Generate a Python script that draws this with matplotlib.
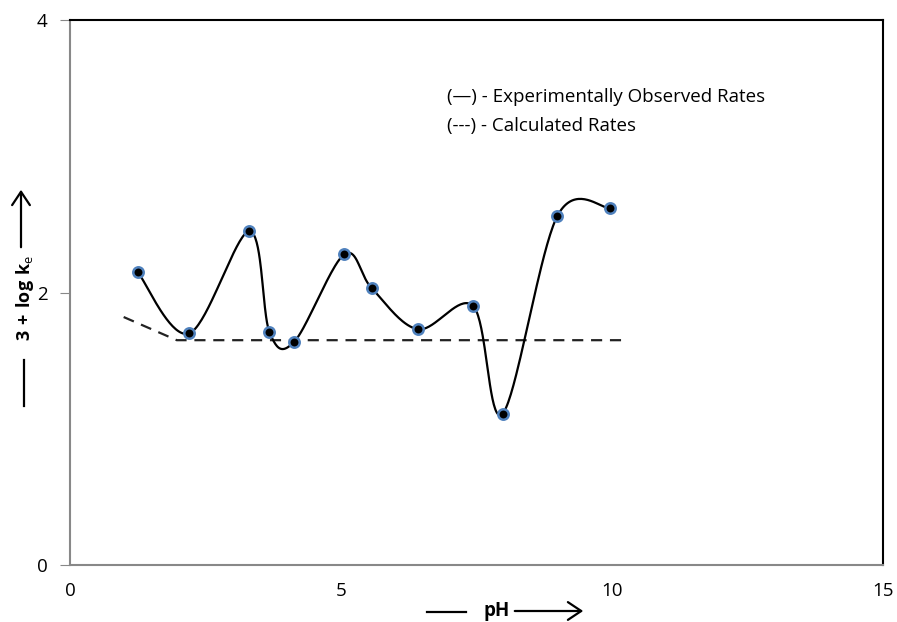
import numpy as np
import matplotlib
matplotlib.use("Agg")
import matplotlib.pyplot as plt

plt.rcParams['font.family'] = ['Open Sans', 'DejaVu Sans']
plt.rcParams['mathtext.fontset'] = 'custom'
plt.rcParams['mathtext.rm'] = 'Open Sans'
plt.rcParams['mathtext.bf'] = 'Open Sans:bold'

# Observed data
ph_obs = [1.25, 2.2, 3.31, 3.68, 4.14, 5.06, 5.57, 6.42, 7.44, 7.98, 8.99, 9.96]
logk_obs = [2.15, 1.70, 2.45, 1.71, 1.64, 2.28, 2.03, 1.73, 1.90, 1.11, 2.56, 2.62]

# Calculated rates
ph_calc = [0.99, 1.97, 10.17]
logk_calc = [1.82, 1.65, 1.65]

x_ticks = [0, 5, 10, 15]
y_ticks = [0, 2, 4]

W, H = 897, 622


def smooth(xs, ys, n=40):
    P = np.column_stack([xs, ys]).astype(float)
    sc = np.array([54.2, 136.5])
    Q = P * sc
    out = []
    m = len(Q)
    for i in range(m - 1):
        p0 = Q[i - 1] if i > 0 else Q[i]
        p1 = Q[i]
        p2 = Q[i + 1]
        p3 = Q[i + 2] if i + 2 < m else Q[i + 1]
        c1 = p1 + (p2 - p0) / 6.0
        c2 = p2 - (p3 - p1) / 6.0
        t = np.linspace(0, 1, n)[:, None]
        seg = ((1 - t) ** 3) * p1 + 3 * ((1 - t) ** 2) * t * c1 + 3 * (1 - t) * t ** 2 * c2 + t ** 3 * p2
        out.append(seg if i == 0 else seg[1:])
    R = np.vstack(out) / sc
    return R[:, 0], R[:, 1]


def fpx(x, y):
    return (x / W, 1 - y / H)


fig = plt.figure(figsize=(8.97, 6.22), dpi=100)
ax = fig.add_axes([70 / W, 1 - 565 / H, 813 / W, 545 / H])

sx, sy = smooth(ph_obs, logk_obs)
ax.plot(sx, sy, color='black', lw=1.6, zorder=3)
ax.plot(ph_calc, logk_calc, color='#222222', lw=1.6, ls=(0, (5, 3.5)), zorder=2)
ax.plot(ph_obs, logk_obs, ls='none', marker='o', ms=7.5, mfc='black',
        mec='#4f81bd', mew=1.8, zorder=4)

ax.set_xlim(0, 15)
ax.set_ylim(0, 4)
ax.set_xticks(x_ticks)
ax.set_yticks(y_ticks)
ax.tick_params(axis='x', length=0, pad=12, labelsize=13.5)
ax.tick_params(axis='y', length=7, color='#888888', pad=9, labelsize=13.5)

for s in ['left', 'bottom']:
    ax.spines[s].set_color('#888888')
    ax.spines[s].set_linewidth(1.5)
for s in ['top', 'right']:
    ax.spines[s].set_color('black')
    ax.spines[s].set_linewidth(1.5)

ax.text(0.4637, 0.859, '(\u2014) - Experimentally Observed Rates', transform=ax.transAxes,
        fontsize=13.5, va='center', ha='left')
ax.text(0.4637, 0.806, '(---) - Calculated Rates', transform=ax.transAxes,
        fontsize=13.5, va='center', ha='left')

# y-axis label: dash, text, arrow
fig.text(*fpx(25, 298), r'$\mathbf{3\,+\,log\ k}_{\mathrm{e}}$', rotation=90,
         fontsize=13, ha='center', va='center')
fig.add_artist(plt.Line2D([24 / W, 24 / W], [1 - 360 / H, 1 - 406 / H],
                          transform=fig.transFigure, color='black', lw=1.6))
fig.add_artist(matplotlib.patches.FancyArrowPatch(fpx(21, 250), fpx(21, 187),
               transform=fig.transFigure, arrowstyle='->,head_length=6,head_width=4',
               color='black', lw=1.6, mutation_scale=1.6))

# x-axis label: dash, text, arrow
fig.text(*fpx(497, 611), 'pH', fontsize=13.5, fontweight='bold', ha='center', va='center')
fig.add_artist(plt.Line2D([427 / W, 466 / W], [1 - 612 / H, 1 - 612 / H],
                          transform=fig.transFigure, color='black', lw=1.6))
fig.add_artist(matplotlib.patches.FancyArrowPatch(fpx(512, 611), fpx(586, 611),
               transform=fig.transFigure, arrowstyle='->,head_length=6,head_width=4',
               color='black', lw=1.6, mutation_scale=1.6))

fig.savefig('out.png', dpi=100)
